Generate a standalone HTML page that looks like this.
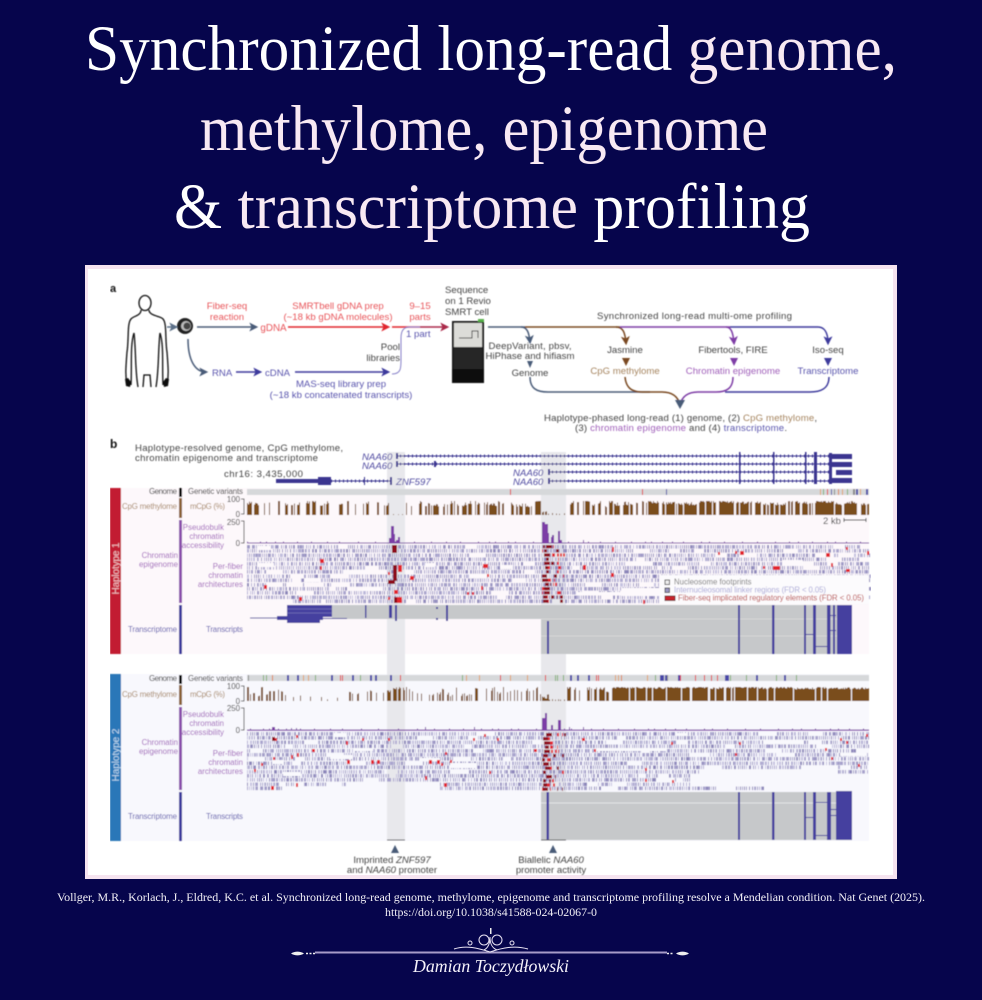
<!DOCTYPE html>
<html><head><meta charset="utf-8"><style>
html,body{margin:0;padding:0;background:#06054c;width:982px;height:1000px;overflow:hidden}
svg{display:block}
.s{font-family:"Liberation Sans",sans-serif}
.f{font-family:"Liberation Serif",serif}
.l{font-size:9.6px}
.t{font-size:7.9px}
</style></head><body>
<svg xmlns="http://www.w3.org/2000/svg" width="982" height="1000" viewBox="0 0 982 1000">
<defs><filter id="b" x="0" y="0" width="100%" height="100%"><feGaussianBlur stdDeviation="0.45"/></filter>
<filter id="b2" filterUnits="userSpaceOnUse" x="240" y="480" width="640" height="320"><feGaussianBlur stdDeviation="0.35"/></filter>
<marker id="ah" markerWidth="6" markerHeight="6" refX="4.5" refY="3" orient="auto"><path d="M0 0L6 3L0 6L1.5 3Z" fill="context-stroke"/></marker></defs>
<rect width="982" height="1000" fill="#06054c"/>
<g class="f" font-size="65" fill="#fff">
<text x="85" y="70" textLength="812" lengthAdjust="spacingAndGlyphs">Synchronized long-read <tspan fill="#f8e9f3">genome,</tspan></text>
<text x="200" y="150" textLength="568" lengthAdjust="spacingAndGlyphs" fill="#f8e9f3">methylome, epigenome</text>
<text x="174" y="228" textLength="636" lengthAdjust="spacingAndGlyphs">&amp; <tspan fill="#f8e9f3">transcriptome</tspan> profiling</text>
</g>
<rect x="85" y="265" width="812" height="614" fill="#f6e4f0"/>
<rect x="88" y="269" width="805" height="606" fill="#fff"/>
<g filter="url(#b)">
<text class="s" x="110" y="292" font-size="11" font-weight="bold" fill="#111">a</text>
<text class="s" x="110" y="448" font-size="12" font-weight="bold" fill="#111">b</text>
<!-- person -->
<g fill="none" stroke="#111" stroke-width="1.3">
<ellipse cx="145" cy="303" rx="6" ry="7.5"/>
<path d="M141 310C141 316 133 316 131 319C127 323 129 340 127 352C126 365 125 375 127 385"/>
<path d="M149 310C149 316 161 316 163 319C167 323 165 340 167 352C168 365 169 375 167 385"/>
<path d="M134 333C130 345 132 365 131 385M160 333C164 345 162 365 163 385"/>
<path d="M134 333C136 350 135 370 138 387M160 333C158 350 159 370 156 387M143 387L144 375H150L151 387"/>
</g>
<path d="M125 379l3-1 3 4-1 5-4-1zM169 379l-3-1-3 4 1 5 4-1z" fill="#111"/>
<!-- cell -->
<circle cx="185" cy="326" r="8" fill="#222"/><circle cx="186" cy="326" r="5" fill="#bbb"/><circle cx="187" cy="326" r="3.5" fill="#444"/>
<g fill="none" stroke-width="1.5">
<path d="M167 327H176" stroke="#5b6f88" marker-end="url(#ah)"/>
<path d="M197 327H256" stroke="#4a5c78" marker-end="url(#ah)"/>
<path d="M188 339C188 360 195 372 206 372" stroke="#4a5c78" marker-end="url(#ah)"/>
<path d="M288 327H388" stroke="#e0252e" marker-end="url(#ah)"/>
<path d="M392 327H420" stroke="#e0252e"/>
<path d="M420 327H447" stroke="#aa2a4a" marker-end="url(#ah)"/>
<path d="M236 372H260" stroke="#3d3a9c" marker-end="url(#ah)"/>
<path d="M295 372H388" stroke="#3d3a9c" marker-end="url(#ah)"/>
<path d="M392 374C401 374 401 368 401 360V338C401 330 404 327 410 327H420" stroke="#8680c8" stroke-width="1"/>
<path d="M488 327H525" stroke="#4a5c78"/>
<path d="M521 327C527 327 529 332 530 342" stroke="#4a5c78" marker-end="url(#ah)"/>
<path d="M525 327H620" stroke="#7a4a22"/>
<path d="M616 327C623 327 625 332 626 343" stroke="#7a4a22" marker-end="url(#ah)"/>
<path d="M620 327H730" stroke="#7e3ea6"/>
<path d="M726 327C731 327 733 332 734 343" stroke="#7e3ea6" marker-end="url(#ah)"/>
<path d="M730 327H818" stroke="#3d3a9c"/>
<path d="M818 327C824 327 828 332 828 343" stroke="#3d3a9c" marker-end="url(#ah)"/>
<path d="M530 377C530 388 536 392 548 392H650" stroke="#4a5c78"/>
<path d="M625 377C626 388 632 392 642 392H662C672 392 678 396 680 405" stroke="#7a4a22"/>
<path d="M829 377C829 388 822 392 810 392H725" stroke="#3d3a9c"/>
<path d="M733 377C733 388 727 392 716 392H698C688 392 682 396 680 405" stroke="#7e3ea6"/>
</g>
<path d="M675 400L680 409L685 400Z" fill="#4a5c78"/>
<path d="M527 361H533L530 368Z" fill="#4a5c78"/>
<path d="M622 358H630L626 366Z" fill="#7a4a22"/><path d="M730 358H738L734 366Z" fill="#7e3ea6"/><path d="M824 358H832L828 366Z" fill="#3d3a9c"/>
<!-- sequencer -->
<rect x="452" y="321" width="32" height="62" fill="#1c1c1e"/><rect x="454" y="323" width="28" height="24" fill="#dcdcd8"/>
<path d="M459 338H472V331H478V338" stroke="#444" fill="none"/><rect x="478" y="319" width="6" height="3" fill="#56b04a"/><rect x="452" y="369" width="32" height="14" fill="#0c0c0c"/><rect x="454" y="347" width="28" height="22" fill="#262628"/>
<g class="s l" fill="#e8555a" text-anchor="middle">
<text x="227" y="309">Fiber-seq</text><text x="227" y="320">reaction</text>
<text x="338" y="309">SMRTbell gDNA prep</text><text x="338" y="320">(~18 kb gDNA molecules)</text>
<text x="420" y="309">9–15</text><text x="420" y="320">parts</text>
<text x="273.500" y="331" font-size="9.800">gDNA</text>
</g>
<g class="s l" fill="#5a55ad">
<text x="212" y="376">RNA</text><text x="265" y="376">cDNA</text>
<text x="341" y="387" text-anchor="middle">MAS-seq library prep</text>
<text x="341" y="398" text-anchor="middle">(~18 kb concatenated transcripts)</text>
<text x="406" y="337">1 part</text>
</g>
<g class="s l" fill="#444">
<text x="400" y="350" text-anchor="end">Pool</text><text x="400" y="361" text-anchor="end">libraries</text>
<text x="445" y="293">Sequence</text><text x="445" y="304">on 1 Revio</text><text x="445" y="315">SMRT cell</text>
<text x="694.500" y="319" text-anchor="middle" textLength="195">Synchronized long-read multi-ome profiling</text>
<text x="530" y="349" text-anchor="middle" textLength="83">DeepVariant, pbsv,</text>
<text x="530" y="359" text-anchor="middle" textLength="89">HiPhase and hifiasm</text>
<text x="530" y="376" text-anchor="middle">Genome</text>
<text x="625" y="353" text-anchor="middle">Jasmine</text>
<text x="733" y="353" text-anchor="middle">Fibertools, FIRE</text>
<text x="828" y="353" text-anchor="middle">Iso-seq</text>
<text x="544" y="421" textLength="273">Haplotype-phased long-read (1) genome, (2) <tspan fill="#a5845f">CpG methylome</tspan>,</text>
<text x="575" y="431" textLength="212">(3) <tspan fill="#a060ba">chromatin epigenome</tspan> and (4) <tspan fill="#5a55ad">transcriptome</tspan>.</text>
<text x="135" y="451" textLength="208">Haplotype-resolved genome, CpG methylome,</text>
<text x="135" y="461" textLength="183">chromatin epigenome and transcriptome</text>
<text x="224" y="477" textLength="79">chr16: 3,435,000</text>
</g>
<g class="s l" text-anchor="middle">
<text x="625" y="374" fill="#a5845f">CpG methylome</text>
<text x="733" y="374" fill="#a060ba">Chromatin epigenome</text>
<text x="828" y="374" fill="#5a55ad">Transcriptome</text>
</g>
<!-- panels -->
<rect x="121" y="488" width="748" height="166" fill="#fdf8fb"/>
<rect x="121" y="674" width="748" height="167" fill="#f8f8fd"/>
<rect x="387" y="452" width="18" height="388" fill="#e8e8ec"/>
<rect x="541" y="452" width="25" height="388" fill="#e8e8ec"/>
<!-- genes -->
<g fill="none" stroke="#3a3690">
<path d="M396 456H830M396 464H830M548 472H830M548 481H830M331 481H392" stroke-width="1"/>
<path d="M396 456H830M396 464H830M548 472H830M548 481H830M331 481H392" stroke-width="3" stroke-dasharray="1 3"/>
</g>
<g fill="#3a3690">
<rect x="276" y="479" width="42" height="4"/><rect x="318" y="477" width="13" height="8"/><rect x="364" y="477" width="1" height="8"/><rect x="390" y="477" width="2" height="8"/>
<rect x="396" y="453" width="2" height="6"/><rect x="396" y="461" width="2" height="6"/><rect x="434" y="461" width="2" height="6"/><rect x="548" y="469" width="2" height="6"/><rect x="548" y="478" width="2" height="6"/>
<rect x="739" y="452" width="1.500" height="32"/><rect x="773" y="452" width="1.500" height="32"/><rect x="805" y="452" width="1.500" height="32"/><rect x="814" y="452" width="3" height="32"/>
<rect x="829" y="453" width="3" height="31"/><rect x="832" y="454" width="20" height="5"/><rect x="832" y="462" width="20" height="5"/><rect x="836" y="470" width="16" height="5"/><rect x="832" y="478" width="20" height="5"/>
</g>
<g class="s l" font-style="italic" fill="#4f4aa0">
<text x="362" y="460">NAA60</text><text x="362" y="469">NAA60</text><text x="513" y="476">NAA60</text><text x="513" y="485">NAA60</text><text x="396" y="485">ZNF597</text>
</g>
<!-- left bars -->
<rect x="110" y="488" width="11" height="166" fill="#c21f33"/>
<rect x="110" y="674" width="11" height="167" fill="#2a77b8"/>
<text class="s" font-size="10" fill="#f2c4c8" transform="translate(119 568.500) rotate(-90)" text-anchor="middle" textLength="52">Haplotype 1</text>
<text class="s" font-size="10" fill="#c4dcf0" transform="translate(119 755) rotate(-90)" text-anchor="middle" textLength="53">Haplotype 2</text>
<rect x="179" y="488" width="3" height="9" fill="#111"/><rect x="179" y="498" width="3" height="20" fill="#8a6238"/><rect x="179" y="520" width="3" height="83" fill="#8a4fab"/><rect x="179" y="605" width="3" height="49" fill="#3d3a9c"/>
<rect x="179" y="675" width="3" height="9" fill="#111"/><rect x="179" y="685" width="3" height="20" fill="#8a6238"/><rect x="179" y="707" width="3" height="83" fill="#8a4fab"/><rect x="179" y="792" width="3" height="49" fill="#3d3a9c"/>
<g class="s t" text-anchor="end">
<g fill="#333"><text x="177" y="494" textLength="28">Genome</text><text x="243" y="494" textLength="55">Genetic variants</text><text x="177" y="681" textLength="28">Genome</text><text x="243" y="681" textLength="55">Genetic variants</text></g>
<g fill="#a5845f"><text x="177" y="509" textLength="55">CpG methylome</text><text x="225" y="509" textLength="35">mCpG (%)</text><text x="177" y="697" textLength="55">CpG methylome</text><text x="225" y="697" textLength="35">mCpG (%)</text></g>
<g fill="#a060ba">
<text x="224" y="530">Pseudobulk</text><text x="224" y="539">chromatin</text><text x="224" y="548">accessibility</text>
<text x="178" y="558">Chromatin</text><text x="178" y="567">epigenome</text>
<text x="243" y="569">Per-fiber</text><text x="243" y="578">chromatin</text><text x="243" y="587">architectures</text>
<text x="224" y="717">Pseudobulk</text><text x="224" y="726">chromatin</text><text x="224" y="735">accessibility</text>
<text x="178" y="745">Chromatin</text><text x="178" y="754">epigenome</text>
<text x="243" y="756">Per-fiber</text><text x="243" y="765">chromatin</text><text x="243" y="774">architectures</text>
</g>
<g fill="#5a55ad"><text x="177" y="632" textLength="49">Transcriptome</text><text x="243" y="632" textLength="37">Transcripts</text><text x="177" y="819" textLength="49">Transcriptome</text><text x="243" y="819" textLength="37">Transcripts</text></g>
<g fill="#333">
<text x="240" y="502">100</text><text x="240" y="517">0</text><text x="240" y="525">250</text><text x="240" y="546">0</text>
<text x="240" y="689">100</text><text x="240" y="704">0</text><text x="240" y="711">250</text><text x="240" y="733">0</text>
</g></g>
<path d="M241 499H244V514H241M241 521H244V543H241M241 686H244V701H241M241 708H244V730H241" fill="none" stroke="#333" stroke-width=".8"/>
<rect x="247" y="489" width="622" height="6" fill="#d6d8da"/>
<rect x="247" y="675" width="622" height="6" fill="#d6d8da"/>
<g id="tr" filter="url(#b2)"></g>
<!-- transcripts -->
<rect x="332" y="605" width="209" height="14" fill="#c6c8ca"/>
<rect x="541" y="605" width="311" height="49" fill="#c6c8ca"/>
<rect x="541" y="792" width="311" height="48" fill="#c6c8ca"/>
<path d="M541 803H852" stroke="#eee" stroke-width=".8"/>
<path d="M541 619H852M541 636H852" stroke="#ddd" stroke-width=".7"/>
<g fill="#45419f">
<rect x="287" y="605" width="45" height="12"/><rect x="250" y="617.500" width="27" height="1"/><rect x="277" y="616" width="46" height="4"/><rect x="287" y="620" width="33" height="3"/><rect x="323" y="618" width="24" height="1"/>
<rect x="365" y="605" width="1.500" height="13"/><rect x="389" y="605" width="3" height="13"/><rect x="395" y="605" width="2" height="16"/><rect x="446" y="605" width="2" height="16"/><rect x="436" y="607" width="2" height="2"/><rect x="436" y="618" width="2" height="2"/>
<rect x="547" y="621" width="2" height="33"/><rect x="738" y="605" width="2" height="49"/><rect x="772" y="605" width="2.500" height="49"/><rect x="804" y="605" width="2" height="49"/><rect x="813" y="605" width="3" height="49"/><rect x="827" y="605" width="3.500" height="49"/><rect x="833" y="605" width="2" height="49"/><rect x="837" y="605" width="15" height="49"/>
<rect x="806" y="634" width="8" height="1"/><rect x="816" y="646" width="11" height="1"/><rect x="830" y="615" width="6" height="1"/><rect x="830" y="630" width="6" height="1"/>
<rect x="546.500" y="792" width="2.500" height="48"/><rect x="738" y="792" width="2" height="48"/><rect x="772" y="792" width="2.500" height="48"/><rect x="804" y="792" width="2" height="48"/><rect x="813" y="792" width="3" height="48"/><rect x="827" y="792" width="4" height="48"/><rect x="836" y="791" width="16" height="49"/>
<rect x="816" y="802" width="11" height="1"/><rect x="806" y="817" width="8" height="1"/><rect x="816" y="835" width="11" height="1"/><rect x="831" y="815" width="5" height="1"/><rect x="831" y="809" width="5" height="1"/>
</g>
<path d="M287 609H332M287 613H332" stroke="#8f8cc8" stroke-width=".5"/>
<!-- legend -->
<rect x="660" y="575" width="209" height="29" fill="#fcfbfd"/>
<rect x="665" y="580" width="4.500" height="4.500" fill="#eee" stroke="#333" stroke-width=".8"/>
<rect x="665" y="588" width="4.500" height="4.500" fill="#9a96c0" stroke="#333" stroke-width=".8"/>
<rect x="665" y="596" width="10" height="4.500" fill="#c8202a" stroke="#511" stroke-width=".8"/>
<g class="s" font-size="7.800">
<text x="674" y="584.500" fill="#777">Nucleosome footprints</text>
<text x="674" y="592.500" fill="#aaa8d8" textLength="152">Internucleosomal linker regions (FDR &lt; 0.05)</text>
<text x="678" y="600.500" fill="#b8403f" textLength="186">Fiber-seq implicated regulatory elements (FDR &lt; 0.05)</text>
</g>
<text class="s" x="823" y="524" font-size="9.500" fill="#444">2 kb</text>
<path d="M844 520H866M844 518V522M866 518V522" stroke="#333" stroke-width=".9" fill="none"/>
<!-- promoter labels -->
<path d="M387 840H405M541 840H566" stroke="#555" stroke-width="1"/>
<path d="M395 845L399 853H391ZM553 845L557 853H549Z" fill="#4a5c78"/>
<g class="s l" fill="#444" text-anchor="middle" font-size="9.600">
<text x="392" y="863">Imprinted <tspan font-style="italic">ZNF597</tspan></text><text x="392" y="873">and <tspan font-style="italic">NAA60</tspan> promoter</text>
<text x="551" y="863">Biallelic <tspan font-style="italic">NAA60</tspan></text><text x="551" y="873">promoter activity</text>
</g>
</g>
<!-- citation -->
<g class="f" fill="#f2f0f6" font-size="12" text-anchor="middle">
<text x="491" y="901" textLength="868" lengthAdjust="spacingAndGlyphs">Vollger, M.R., Korlach, J., Eldred, K.C. et al. Synchronized long-read genome, methylome, epigenome and transcriptome profiling resolve a Mendelian condition. Nat Genet (2025).</text>
<text x="491" y="916" textLength="212" lengthAdjust="spacingAndGlyphs">https://doi.org/10.1038/s41588-024-02067-0</text>
</g>
<!-- ornament -->
<path d="M315 952.500H667" stroke="#a79cc8" stroke-width="2"/>
<path d="M291 953.500C295 951 300 951 304 953.500C300 956 295 956 291 953.500ZM689 953.500C685 951 680 951 676 953.500C680 956 685 956 689 953.500Z" fill="#eee"/>
<path d="M306 953.500H315M667 953.500H674" stroke="#eee" stroke-width="1.400" stroke-dasharray="2 1.500"/>
<g fill="none" stroke="#e8e2f2" stroke-width="1">
<circle cx="484" cy="940" r="5"/><circle cx="497" cy="940" r="5"/>
<path d="M490 937C490 944 488 948 484 950M490 937C490 944 492 948 497 950"/>
<path d="M454 949C466 945 478 948 490 952C502 948 514 945 528 949"/>
<circle cx="470" cy="943" r="2"/><circle cx="512" cy="943" r="2"/>
</g>
<rect x="490" y="928" width="1.500" height="6" fill="#eee"/>
<text class="f" x="413" y="972" font-size="18" font-style="italic" fill="#f5f2fa" textLength="156" lengthAdjust="spacingAndGlyphs">Damian Toczydłowski</text>
<script>//<![CDATA[
(function(){
var s=12345;function r(){s|=0;s=s+1831565813|0;var t=Math.imul(s^s>>>15,1|s);t=t+Math.imul(t^t>>>7,61|t)^t;return((t^t>>>14)>>>0)/4294967296;}
function ri(a,b){return a+Math.floor(r()*(b-a+1));}
var paths={};
function R(c,x,y,w,h){(paths[c]=paths[c]||[]).push('M'+x+' '+y+'h'+w+'v'+h+'h'+(-w)+'z');}
var BR='#7a4e1e';
function hapRuns(base,cfg){
 var x=247;
 while(x<869){
  var c=cfg(x),w=ri(c[0],c[1]),g=ri(c[2],c[3]),pl=c[4]+r()*(c[5]-c[4]);
  for(var i=0;i<w&&x<869;i++,x++){
    if(c[7]&&r()<c[7])continue;
    var h=Math.min(14,pl+(r()-.5)*c[6]);
    if(h>0)R(BR,x,base-h,1,h);
  }
  x+=g;
 }
}
hapRuns(515,function(x){
 if(x>=387&&x<405)return [1,1,3,5,.5,1,0,0];
 if(x>=541&&x<548)return [1,2,1,2,1,4,1,0];
 if(x>=548&&x<566)return [1,1,2,4,.8,2,0,0];
 if(x<420)return [1,5,1,6,10,14,3,.25];
 if(x<640)return [1,8,1,3,9,14,4,.25];
 return [4,20,1,2,11,14,3,.1];
});
hapRuns(701,function(x){
 if(x>=541&&x<548)return [1,2,0,1,2,6,2,0];
 if(x>=548&&x<566)return [1,1,1,3,1,2,0,0];
 if(x<285)return [1,2,1,3,5,14,1,0];
 if(x<345)return [1,1,4,10,1,6,0,0];
 if(x<385)return [1,3,1,4,2,12,3,.2];
 if(x<405)return [1,5,0,1,10,14,3,.2];
 if(x<541)return [1,4,1,3,5,14,4,.25];
 if(x<610)return [1,6,1,3,7,14,4,.2];
 return [8,28,1,1,12,14,2,.04];
});
// fibers
var cols=['#9c97c4','#b3afd4','#8c86ba','#c6c3e0','#a7a2cc'];
function fibers(y0,n,ext,sparse){
 for(var i=0;i<n;i++){var y=Math.round((y0+i*4.2)*2)/2,ex=ext(i);
  for(var k=0;k<ex.length;k++){var x=ex[k][0],e=ex[k][1];
   while(x<e){
    var sp=sparse(x,i);
    if(r()<sp){x+=4+r()*16;continue;}
    var w=r()<.85?1:2;
    R(cols[Math.floor(r()*5)],Math.round(x),y,w,3.6);
    x+=w+(r()<.3?0:(r()<.75?1:2));
   }}
 }
}
fibers(545,14,function(i){return i==13?[[293,869]]:[[247,869]];},function(x,i){return (x>790&&i>1&&i<5)?.08:.015;});
fibers(732,14,function(i){
 if(i<8)return [[247,869]];
 if(i==8)return [[247,800],[838,869]];
 if(i==9)return [[247,700],[838,869]];
 if(i==10||i==11)return [[247,690]];
 if(i==12)return [[247,345],[440,690]];
 return [[247,283],[440,765]];
},function(x,i){return .015;});
var H1='#fdf9fc',H2='#f9f9fd';
[[257,546,14,4],[257,563,17,4],[343,570,27,4],[425,563,10,4],[470,574,17,4],[363,587,20,4],[305,578,15,4],[633,562,20,4],[500,565,13,4],[622,588,38,8],[577,592,55,3],[783,560,20,6]].forEach(function(a){R(H1,a[0],a[1],a[2],a[3]);});
[[333,733,13,4],[273,760,10,4],[330,755,23,4],[353,748,20,3],[450,763,27,5],[283,772,17,4],[420,758,20,3],[763,740,40,4],[597,748,70,3],[677,733,10,3],[840,753,27,3]].forEach(function(a){R(H2,a[0],a[1],a[2],a[3]);});
var RD='#e3272d',DK='#8d0f1b';
var h1=[[320,559,4,4],[320,566,2,4],[264,585,3,4],[299,597,3,4],[481,586,2,4],[487,574,2,3],[398,565,4,7],[410,576,4,4],[483,564,5,4],[467,592,2,3],[472,592,2,3],[612,547,2,5],[583,565,3,5],[611,573,3,4],[643,600,2,4],[718,552,2,3],[735,551,2,3],[740,551,4,4],[763,566,2,3],[773,566,7,4],[826,553,4,4],[831,563,2,4],[846,569,4,3],[846,547,2,3],[867,551,2,4],[388,572,2,3],[394,590,4,4],[397,597,5,6],[388,597,2,3]];
h1.forEach(function(a){R(RD,a[0],a[1],a[2],a[3]);});
[[392,545,5,8],[393,565,4,16],[388,580,7,4],[394,597,3,6]].forEach(function(a){R(DK,a[0],a[1],a[2],a[3]);});
var h2=[[275,738,2,3],[296,735,2,3],[346,741,2,4],[362,738,2,3],[388,738,2,3],[273,757,2,3],[291,755,2,4],[297,753,2,4],[312,749,3,3],[261,763,2,3],[254,769,2,3],[296,783,2,4],[271,786,3,4],[347,760,3,4],[371,760,3,4],[377,760,3,4],[429,760,3,4],[437,760,3,4],[441,763,2,3],[450,760,2,3],[445,752,2,3],[425,776,2,4],[444,783,3,4],[473,738,2,3],[484,734,2,3],[497,738,2,3],[489,771,2,3],[582,738,3,3],[534,749,3,3],[594,749,2,3],[671,742,2,3],[645,768,2,3],[645,779,2,3],[672,780,2,3],[739,742,2,3],[735,753,2,3],[825,748,2,3],[831,757,2,3],[840,738,2,3],[846,741,2,3],[866,734,2,3],[858,764,2,3]];
h2.forEach(function(a){R(RD,a[0],a[1],a[2],a[3]);});
R(DK,272,737,3,4);
function cluster(y0,y1){for(var y=y0;y<y1;y+=4.2){
 var n=2+Math.floor(r()*3);
 R(DK,542+Math.floor(r()*5),y,3+Math.floor(r()*4),3.2);
 for(var j=0;j<n;j++){var x=r()<.6?542+r()*9:550+r()*14;R(r()<.75?RD:DK,Math.round(x),y,1+Math.floor(r()*3),3.2);}
}}
cluster(545,603);cluster(733,790);
// variants
var vc=['#e3a060','#7fb070','#e3272d','#4a46a8','#888','#e08040'];
[[510,2],[642,2],[666,3]].forEach(function(a){R(vc[a[1]],a[0],489,1,6);});
[820,823,827,831,834,838,842,847].forEach(function(x,i){R(vc[i%6],x,489,1,6);});
R(vc[4],853,489,2,6);R(vc[3],856,489,2,6);R(vc[0],860,489,1,6);R(vc[3],866,489,2,6);
[[248,4],[263,1],[266,1],[272,5],[287,3],[297,3],[303,0],[308,0],[315,1],[331,3],[340,2],[342,2],[352,3],[360,1],[370,3],[375,3],[390,3],[400,2],[462,1],[466,0],[479,0],[500,2],[510,0],[527,0],[545,2],[555,1],[557,1],[563,1],[570,3],[577,3],[588,3],[596,2],[598,2],[615,0],[618,0],[621,5],[647,0],[655,1],[660,3],[662,3],[665,3],[667,4],[678,3],[680,2],[695,2],[704,2],[711,2],[717,2],[725,3],[727,3],[730,1],[746,1],[756,3],[776,1],[784,3],[796,1]].forEach(function(a){R(vc[a[1]],a[0],675,a[1]==3?2:1,6);});
// pseudobulk
var PU='#7b3ea6';
R(PU,247,542.5,622,1);R(PU,247,729.5,622,1.2);
[[391,526,3],[394,534,1],[389,538,2],[396,540,3],[398,537,2],[542,522,3],[545,524,3],[547,533,2],[551,537,1],[552,535,2],[558,531,2],[560,540,2],[583,540,1]].forEach(function(a){R(PU,a[0],a[1],a[2],543-a[1]);});
[[542,718,5],[545,713,2],[551,725,2],[558,720,3],[272,727,3],[291,728,1],[296,728,1],[425,727,1],[474,727,1],[569,727,1],[583,727,1]].forEach(function(a){R(PU,a[0],a[1],a[2],730-a[1]);});
for(var x=247;x<869;x+=6+r()*14){R(PU,Math.round(x),541.5,1,1);R(PU,Math.round(x+3),728.5,1,1);}
var g=document.getElementById('tr'),NS='http://www.w3.org/2000/svg';
for(var c in paths){var p=document.createElementNS(NS,'path');p.setAttribute('d',paths[c].join(''));p.setAttribute('fill',c);g.appendChild(p);}
})();
//]]></script>
</svg>
</body></html>
